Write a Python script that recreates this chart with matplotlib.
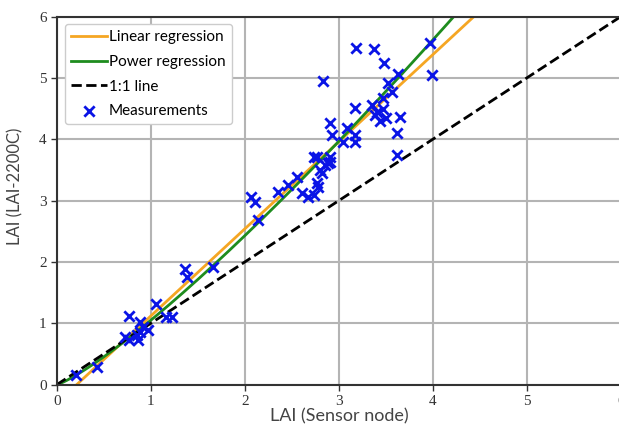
import numpy as np
import matplotlib
matplotlib.use("Agg")
import matplotlib.pyplot as plt

sensor_lai = [0.20, 0.43, 0.77, 0.88, 0.72, 0.77, 0.86, 0.88, 0.97, 0.92, 0.85,
              1.05, 1.16, 1.22, 1.36, 1.38, 1.66,
              2.07, 2.11, 2.14, 2.35, 2.46, 2.55, 2.61, 2.67, 2.74, 2.78, 2.77,
              2.74, 2.82, 2.85, 2.90, 2.80, 2.88, 2.90, 2.77,
              2.83, 2.90, 2.93, 3.09, 3.17, 3.17, 3.04,
              3.18, 3.37, 3.48, 3.63, 3.97, 3.99, 3.52,
              3.17, 3.35, 3.65, 3.62, 3.62, 3.41, 3.38, 3.47, 3.50, 3.44,
              3.47, 3.57]
ref_lai = [0.16, 0.28, 1.12, 1.02, 0.78, 0.73, 0.73, 0.86, 0.89, 0.94, 0.81,
           1.31, 1.10, 1.10, 1.88, 1.75, 1.92,
           3.06, 2.98, 2.68, 3.14, 3.26, 3.39, 3.12, 3.06, 3.09, 3.22, 3.29,
           3.71, 3.45, 3.58, 3.63, 3.50, 3.61, 3.71, 3.71,
           4.95, 4.26, 4.07, 4.18, 4.07, 3.96, 3.96,
           5.49, 5.47, 5.24, 5.07, 5.57, 5.05, 4.92,
           4.51, 4.56, 4.36, 4.10, 3.74, 4.45, 4.40, 4.50, 4.35, 4.30,
           4.67, 4.77]

lin_slope, lin_icpt = 1.42, -0.30
pow_a, pow_b = 1.05, 1.21

fig = plt.figure(figsize=(6.19, 4.24), dpi=100)
ax = fig.add_axes([0.092, 0.093, 0.911, 0.868])

x = np.linspace(0, 6, 300)
ax.plot(x, lin_slope * x + lin_icpt, color="#f5a623", lw=2, label="Linear regression")
ax.plot(x, pow_a * x ** pow_b, color="#1e8c1e", lw=2, label="Power regression")
ax.plot([0, 6], [0, 6], color="black", ls="--", lw=2, label="1:1 line")
ax.scatter(sensor_lai, ref_lai, marker="x", color="#0a14e6", s=55, linewidths=2,
           label="Measurements", zorder=3)

ax.set_xlim(0, 6)
ax.set_ylim(0, 6)
ax.set_xticks(range(7))
ax.set_yticks(range(7))
ax.grid(True, color="#b4b4b4", lw=1.5)
ax.set_axisbelow(True)
for lab in ax.get_xticklabels() + ax.get_yticklabels():
    lab.set_family("Liberation Serif")
    lab.set_fontsize(11)
ax.tick_params(length=4, width=1, colors="#333333")
for s in ax.spines.values():
    s.set_linewidth(1.5)
    s.set_color("#333333")

ax.set_xlabel("LAI (Sensor node)", family="Lato", fontsize=13, color="#444444", labelpad=0)
ax.set_ylabel("LAI (LAI-2200C)", family="Lato", fontsize=12, color="#444444")
ax.yaxis.set_label_coords(-0.06, 0.54)

leg = ax.legend(loc="upper left", prop={"family": "Lato", "size": 11},
                handlelength=2.4, handletextpad=0.1, borderpad=0.4,
                labelspacing=0.7, framealpha=1, edgecolor="#cccccc",
                bbox_to_anchor=(0.0, 1.0))

fig.savefig("out.png", dpi=100)
